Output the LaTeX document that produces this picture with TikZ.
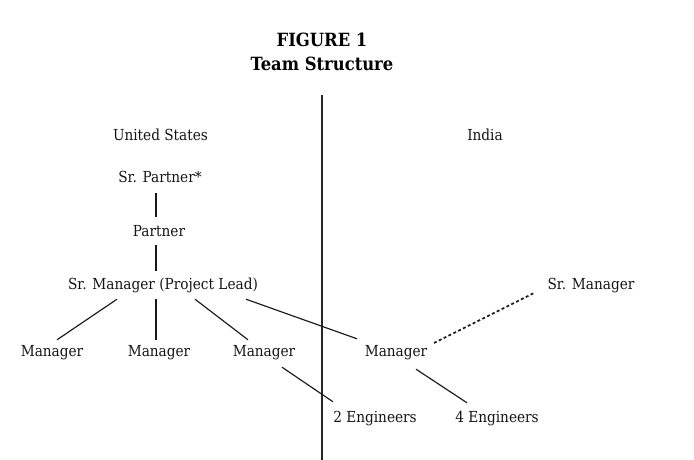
\documentclass[tikz,border=0pt]{standalone}
\usepackage{fontspec}
\setmainfont{DejaVu Serif Condensed}
\usetikzlibrary{calc}
\begin{document}
\begin{tikzpicture}[x=1pt,y=-1pt,
  lbl/.style={inner sep=0pt,text height=10pt,text depth=3pt,font=\fontsize{15.2}{18}\selectfont,text=black!92},
  ttl/.style={inner sep=0pt,font=\fontsize{18.2}{21}\selectfont\bfseries,text=black},
  conn/.style={line width=1.15pt,draw=black!90},
  dotconn/.style={line width=1.7pt,draw=black!90,dash pattern=on 3pt off 2.4pt}]
\useasboundingbox (0,0) rectangle (694,460);
\node[ttl] (t1) at (322,40) {FIGURE 1};
\node[ttl] (t2) at (322,64) {Team Structure};
\coordinate (dtop) at (322,95);
\coordinate (dbot) at (322,460);
\draw[line width=1.5pt,draw=black!85] (dtop) -- (dbot);
\node[lbl] (us) at (160.5,137) {United States};
\node[lbl] (india) at (485,137) {India};
\node[lbl] (sp) at (160,179) {Sr. Partner*};
\node[lbl] (p) at (159,233) {Partner};
\node[lbl] (srm) at (163,286) {Sr. Manager (Project Lead)};
\node[lbl] (m1) at (52,353) {Manager};
\node[lbl] (m2) at (159,353) {Manager};
\node[lbl] (m3) at (264,353) {Manager};
\node[lbl] (mi) at (396,353) {Manager};
\node[lbl] (srmi) at (591,286) {Sr. Manager};
\node[lbl] (e2) at (375,419) {2 Engineers};
\node[lbl] (e4) at (497,419) {4 Engineers};
\draw[conn] ($(sp.south)+(-4,7.5)$) -- ($(p.north)+(-3,-9.5)$);
\draw[conn] ($(p.south)+(-3,5.5)$) -- ($(srm.north)+(-7,-8.5)$);
\draw[conn] ($(srm.south)+(-46,6.5)$) -- ($(m1.north)+(5,-6.5)$);
\draw[conn] ($(srm.south)+(-7,6.5)$) -- ($(m2.north)+(-3,-6.5)$);
\draw[conn] ($(srm.south)+(32,6.5)$) -- ($(m3.north)+(-16,-6.5)$);
\draw[conn] ($(srm.south)+(83,6.5)$) -- ($(mi.north)+(-39,-7.5)$);
\draw[conn] ($(m3.south)+(18,7.5)$) -- ($(e2.north)+(-42,-10.5)$);
\draw[conn] ($(mi.south)+(20,9.5)$) -- ($(e4.north)+(-30,-9.5)$);
\draw[dotconn] ($(mi.center)+(38,-10)$) -- ($(srmi.center)+(-57,7)$);
\end{tikzpicture}
\end{document}
